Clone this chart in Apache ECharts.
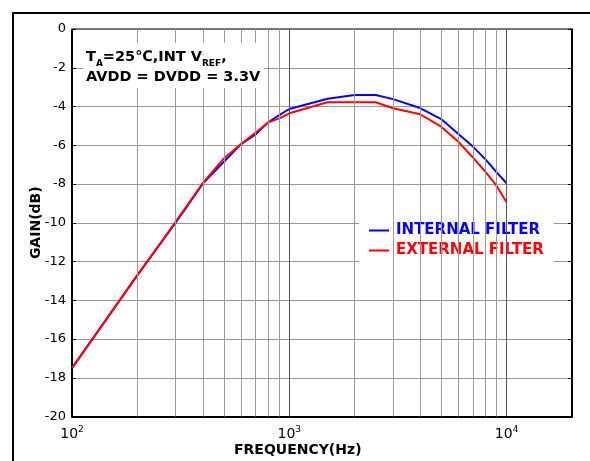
<!DOCTYPE html>
<html>
<head>
<meta charset="utf-8">
<script src="https://cdn.jsdelivr.net/npm/echarts@6/dist/echarts.min.js"></script>
<style>
html,body{margin:0;padding:0;background:#fff;}
#chart{width:590px;height:461px;}
</style>
</head>
<body>
<div id="chart"></div>
<script>
// Frequencies (Hz)
var freqs = [100, 200, 300, 400, 500, 600, 700, 800, 900, 1000, 1500, 2000, 2500, 3000, 4000, 5000, 6000, 7000, 8000, 9000, 10000];
// Gain (dB)
var internalFilter = [-17.5, -12.7, -10.0, -7.98, -6.85, -5.94, -5.44, -4.82, -4.44, -4.13, -3.6, -3.41, -3.41, -3.62, -4.08, -4.65, -5.42, -6.07, -6.73, -7.4, -7.96];
var externalFilter = [-17.5, -12.7, -9.95, -7.95, -6.68, -5.94, -5.35, -4.82, -4.61, -4.35, -3.78, -3.78, -3.78, -4.09, -4.4, -5.04, -5.82, -6.64, -7.37, -8.1, -8.94];
var seriesNames = ['INTERNAL FILTER', 'EXTERNAL FILTER'];
var gridFreqs = [200, 300, 400, 500, 600, 700, 800, 900, 1000, 2000, 3000, 4000, 5000, 6000, 7000, 8000, 9000, 10000];
var xTitle = 'FREQUENCY(Hz)';
var yTitle = 'GAIN(dB)';

function pairs(ys) { return freqs.map(function (f, i) { return [f, ys[i]]; }); }

var FONT = 'DejaVu Sans';
var chart = echarts.init(document.getElementById('chart'), null, {renderer: 'canvas'});

var option = {
  animation: false,
  backgroundColor: '#fff',
  grid: {left: 72, right: 18, top: 29, bottom: 44.5, containLabel: false},
  xAxis: [{
    type: 'log', logBase: 10, min: 100, max: 20000,
    axisLine: {show: true, onZero: false, lineStyle: {color: '#000', width: 2}},
    axisTick: {show: true, inside: true, length: 4, lineStyle: {color: '#000'}},
    splitLine: {show: false},
    axisLabel: {
      show: true, showMaxLabel: false, margin: 9, color: '#000',
      formatter: function (v) {
        var e = Math.log10(v);
        var r = Math.round(e);
        if (Math.abs(e - r) > 1e-6) return '';
        return '{b|10}{s|' + r + '}';
      },
      rich: {
        b: {fontFamily: FONT, fontSize: 14, color: '#000', verticalAlign: 'bottom', lineHeight: 16},
        s: {fontFamily: FONT, fontSize: 9, color: '#000', verticalAlign: 'top', padding: [0, 0, 8, 0], lineHeight: 16}
      }
    }
  }, {
    type: 'log', logBase: 10, min: 100, max: 20000, position: 'top',
    axisLine: {show: true, onZero: false, lineStyle: {color: '#777', width: 2}},
    axisTick: {show: true, inside: true, length: 4, lineStyle: {color: '#000'}},
    axisLabel: {show: false},
    splitLine: {show: false}
  }],
  yAxis: [{
    type: 'value', min: -20, max: 0, interval: 2,
    axisLine: {show: true, onZero: false, lineStyle: {color: '#000', width: 2}},
    axisTick: {show: true, inside: true, length: 4, lineStyle: {color: '#000'}},
    splitLine: {show: true, lineStyle: {color: '#999', width: 1}},
    axisLabel: {show: true, margin: 6, color: '#000', fontFamily: FONT, fontSize: 13},
    name: yTitle, nameLocation: 'middle', nameGap: 29, nameRotate: 90, nameMoveOverlap: false,
    nameTextStyle: {fontFamily: FONT, fontSize: 14, fontWeight: 'bold', color: '#000'}
  }, {
    type: 'value', min: -20, max: 0, interval: 2, position: 'right',
    axisLine: {show: true, onZero: false, lineStyle: {color: '#000', width: 2}},
    axisTick: {show: true, inside: true, length: 4, lineStyle: {color: '#000'}},
    splitLine: {show: false},
    axisLabel: {show: false}
  }],
  legend: {
    show: true, orient: 'vertical', left: 359, top: 216,
    backgroundColor: '#fff', padding: [7, 10, 8, 10],
    icon: 'rect', itemWidth: 20, itemHeight: 2, itemGap: 5,
    selectedMode: false,
    data: [
      {name: seriesNames[0], textStyle: {color: '#0000ff'}},
      {name: seriesNames[1], textStyle: {color: '#ff0000'}}
    ],
    textStyle: {fontFamily: FONT, fontSize: 15, fontWeight: 'bold', padding: [0, 0, 0, 2]}
  },
  graphic: [
    {type: 'rect', z: 100, shape: {x: 13, y: 13, width: 700, height: 600}, style: {fill: 'none', stroke: '#000', lineWidth: 2}},
    {type: 'rect', z: 50, shape: {x: 83, y: 43, width: 181, height: 45}, style: {fill: '#fff'}},
    {type: 'text', z: 51, left: 86, top: 50,
      style: {
        text: '{b|T}{s|A}{b|=25℃,INT V}{s|REF}{b|,}\n{b|AVDD = DVDD = 3.3V}',
        rich: {
          b: {fontFamily: FONT, fontSize: 14.5, fontWeight: 'bold', fill: '#000', lineHeight: 20, verticalAlign: 'bottom'},
          s: {fontFamily: FONT, fontSize: 9, fontWeight: 'bold', fill: '#000', lineHeight: 20, verticalAlign: 'bottom', padding: [0, 0, -3, 0]}
        }
      }
    },
    {type: 'text', z: 51, left: 234, top: 443,
      style: {text: xTitle, fontFamily: FONT, fontSize: 14, fontWeight: 'bold', fill: '#000'}
    }
  ],
  series: [{
    name: seriesNames[0], type: 'line', data: pairs(internalFilter),
    symbol: 'none', lineStyle: {color: '#0000ff', width: 2}, itemStyle: {color: '#0000ff'},
    markLine: {
      silent: true, symbol: ['none', 'none'], label: {show: false},
      lineStyle: {color: '#888', width: 1, type: 'solid'},
      emphasis: {disabled: true},
      data: gridFreqs.map(function (f) { return {xAxis: f, lineStyle: {color: f === 1000 || f === 10000 ? '#555' : '#999'}}; })
    },
    z: 3
  }, {
    name: seriesNames[1], type: 'line', data: pairs(externalFilter),
    symbol: 'none', lineStyle: {color: '#ff0000', width: 2}, itemStyle: {color: '#ff0000'},
    z: 4
  }]
};
chart.setOption(option);
</script>
</body>
</html>
